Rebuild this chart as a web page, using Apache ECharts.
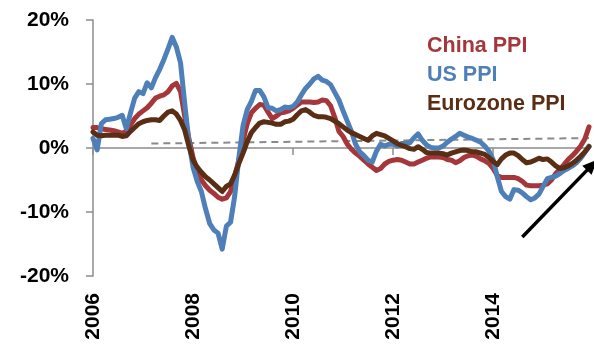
<!DOCTYPE html>
<html>
<head>
<meta charset="utf-8">
<script src="https://cdn.jsdelivr.net/npm/echarts@6/dist/echarts.min.js"></script>
<style>
  html, body { margin: 0; padding: 0; background: #fff; }
  #chart { width: 594px; height: 345px; }
</style>
</head>
<body>
<div id="chart"></div>
<script>
// Producer price indices, year-on-year % change, monthly Jan 2006 - Dec 2015
const years = [2006, 2007, 2008, 2009, 2010, 2011, 2012, 2013, 2014, 2015];
const months = ['01', '02', '03', '04', '05', '06', '07', '08', '09', '10', '11', '12'];

const chinaPPI = [
  3.2, 3.2, 3.0, 2.9, 2.8, 2.7, 2.5, 2.3, 2.6, 3.6, 4.6, 5.3,
  5.8, 6.3, 7.0, 7.8, 8.1, 8.3, 8.8, 9.7, 10.1, 8.8, 5.0, 1.5,
  -1.5, -3.5, -5.0, -5.9, -6.6, -7.1, -7.7, -8.0, -7.8, -6.8, -4.5, -1.8,
  1.2, 3.8, 5.5, 6.2, 6.8, 6.7, 5.6, 4.6, 5.0, 5.5, 5.6, 5.8,
  6.2, 6.7, 7.2, 7.2, 7.2, 7.1, 7.2, 7.5, 7.4, 6.6, 4.8, 2.6,
  1.8, 0.6, -0.2, -0.8, -1.3, -1.9, -2.5, -3.0, -3.5, -3.2, -2.5, -2.1,
  -1.9, -1.8, -1.9, -2.2, -2.5, -2.5, -2.2, -1.9, -1.6, -1.4, -1.4, -1.4,
  -1.5, -1.8, -1.9, -2.3, -2.0, -1.5, -1.2, -1.1, -1.3, -1.7, -2.0, -2.4,
  -3.2, -4.3, -4.6, -4.6, -4.6, -4.6, -4.8, -5.2, -5.8, -5.9, -5.9, -5.9,
  -5.8, -5.6, -5.0, -4.0, -3.3, -2.6, -1.8, -1.2, -0.5, 0.3, 1.4, 3.3
];

const usPPI = [
  1.5, -0.3, 3.8, 4.4, 4.5, 4.6, 4.8, 5.1, 3.0, 5.5, 7.8, 8.8,
  8.5, 10.2, 9.4, 11.0, 12.3, 13.8, 15.5, 17.3, 15.8, 13.3, 7.0, 1.0,
  -3.0, -5.2, -6.8, -9.5, -11.8, -12.8, -13.3, -15.8, -12.2, -11.6, -7.5, -1.5,
  3.5, 6.0, 7.3, 9.0, 9.0, 8.0, 6.3, 6.2, 5.8, 6.0, 6.4, 6.3,
  6.5, 7.2, 8.3, 9.3, 10.0, 10.8, 11.2, 10.6, 10.4, 9.9, 8.7, 7.5,
  5.8, 4.2, 2.6, 0.6, -0.6, -1.2, -1.9, -2.2, -0.5, 0.6, 0.3, 0.6,
  0.6, 0.3, 0.7, 0.7, 0.8, 1.6, 2.2, 1.2, 0.5, 0.1, 0.0, 0.0,
  0.3, 0.9, 1.4, 1.8, 2.3, 2.0, 1.7, 1.5, 1.2, 0.9, 0.3, -0.5,
  -1.8, -4.5, -6.8, -7.6, -8.0, -6.5, -6.6, -7.0, -7.6, -8.1, -7.8, -7.2,
  -6.0, -4.8, -4.6, -4.4, -4.0, -3.5, -3.2, -2.8, -2.3, -1.6, -0.7, 0.3
];

const eurozonePPI = [
  2.5, 2.0, 1.9, 2.0, 2.0, 2.0, 2.0, 1.8, 1.9, 2.6, 3.2, 3.8,
  4.1, 4.3, 4.4, 4.4, 4.3, 5.0, 5.6, 5.8, 5.3, 4.3, 2.8, 0.3,
  -1.9, -3.0, -3.8, -4.5, -5.0, -5.6, -6.2, -6.8, -6.0, -5.6, -4.2, -2.4,
  -0.8, 1.0, 2.4, 3.2, 3.9, 4.1, 4.0, 3.9, 3.7, 3.7, 4.1, 4.2,
  4.5, 5.2, 5.8, 6.0, 5.6, 5.1, 4.9, 4.9, 4.8, 4.6, 4.2, 3.8,
  3.3, 2.8, 2.4, 2.1, 1.8, 1.5, 1.2, 1.9, 2.3, 2.1, 1.9, 1.5,
  1.1, 0.7, 0.4, 0.2, -0.1, -0.2, 0.2, -0.2, -0.7, -0.8, -0.8, -0.8,
  -0.9, -1.1, -0.8, -0.6, -0.4, -0.3, -0.4, -0.6, -0.6, -0.8, -1.0, -1.5,
  -2.1, -2.6, -1.7, -1.1, -0.8, -0.8, -1.2, -1.8, -2.3, -2.2, -1.9, -1.6,
  -1.8, -1.7, -2.2, -2.8, -3.2, -3.1, -2.8, -2.4, -1.9, -1.3, -0.6, 0.2
];

// Dashed long-run trend line: [month, % value]
const trendLine = [['2007-03', 0.7], ['2015-12', 1.55]];

// Annotation arrow, [month index, % value] for tail and tip
const arrowTail = [103, -13.9];
const arrowTip = [120.6, -1.8];

const yTicks = { min: -20, max: 20, step: 10 };

const seriesNames = ['China PPI', 'US PPI', 'Eurozone PPI'];
const seriesColors = ['#A5373A', '#4F7FB8', '#5A2E14'];

const monthLabels = [];
years.forEach(y => months.forEach(m => monthLabels.push(y + '-' + m)));

const FONT = '"Liberation Sans", Arial, sans-serif';
const AXIS_GREY = '#8c8c8c';

const chart = echarts.init(document.getElementById('chart'), null, { renderer: 'canvas' });

const lineSeries = [chinaPPI, usPPI, eurozonePPI].map((values, i) => ({
  name: seriesNames[i],
  type: 'line',
  data: values,
  showSymbol: false,
  symbol: 'none',
  silent: true,
  z: 3 + i,
  lineStyle: { color: seriesColors[i], width: 5, join: 'round', cap: 'round' },
  itemStyle: { color: seriesColors[i] }
}));

chart.setOption({
  animation: false,
  backgroundColor: '#ffffff',
  textStyle: { fontFamily: FONT },
  grid: { left: 93, right: 5, top: 20, bottom: 69, containLabel: false },
  legend: {
    orient: 'vertical',
    left: 417,
    top: 30,
    itemWidth: 0,
    itemHeight: 0,
    itemGap: 7,
    selectedMode: false,
    data: seriesNames.map((n, i) => ({
      name: n,
      icon: 'rect',
      textStyle: { color: seriesColors[i] }
    })),
    textStyle: { fontFamily: FONT, fontSize: 21.5, fontWeight: 'bold', lineHeight: 22 }
  },
  xAxis: {
    type: 'category',
    data: monthLabels,
    boundaryGap: false,
    axisLine: { lineStyle: { color: AXIS_GREY, width: 1.5 } },
    axisTick: { show: true, interval: 23, length: 7, lineStyle: { color: AXIS_GREY, width: 1.5 } },
    axisLabel: {
      interval: 23,
      rotate: 90,
      margin: 17,
      color: '#000',
      fontFamily: FONT,
      fontSize: 21,
      fontWeight: 'bold',
      formatter: v => v.slice(0, 4)
    },
    splitLine: { show: false }
  },
  yAxis: {
    type: 'value',
    min: yTicks.min,
    max: yTicks.max,
    interval: yTicks.step,
    axisLine: { show: true, lineStyle: { color: AXIS_GREY, width: 1.5 } },
    axisTick: { show: true, length: 7, lineStyle: { color: AXIS_GREY, width: 1.5 } },
    axisLabel: {
      margin: 24,
      color: '#000',
      fontFamily: FONT,
      fontSize: 21,
      fontWeight: 'bold',
      formatter: '{value}%'
    },
    splitLine: { show: false }
  },
  series: [
    {
      name: 'trend',
      type: 'line',
      data: trendLine,
      showSymbol: false,
      symbol: 'none',
      silent: true,
      z: 2,
      lineStyle: { color: '#8a8a8a', width: 2, type: [7, 5] }
    }
  ].concat(lineSeries)
});

// Arrow annotation placed in data space
function drawArrow() {
  const p0 = chart.convertToPixel({ gridIndex: 0 }, arrowTail);
  const p1 = chart.convertToPixel({ gridIndex: 0 }, arrowTip);
  const dx = p1[0] - p0[0], dy = p1[1] - p0[1];
  const len = Math.sqrt(dx * dx + dy * dy);
  const ux = dx / len, uy = dy / len;
  const headLen = 15, headHalf = 6.5;
  const bx = p1[0] - ux * headLen, by = p1[1] - uy * headLen;
  const nx = -uy, ny = ux;
  chart.setOption({
    graphic: [
      {
        type: 'line',
        silent: true,
        z: 10,
        shape: { x1: p0[0], y1: p0[1], x2: bx + ux * 2, y2: by + uy * 2 },
        style: { stroke: '#000', lineWidth: 3.5 }
      },
      {
        type: 'polygon',
        silent: true,
        z: 10,
        shape: {
          points: [
            [p1[0], p1[1]],
            [bx + nx * headHalf, by + ny * headHalf],
            [bx - nx * headHalf, by - ny * headHalf]
          ]
        },
        style: { fill: '#000' }
      }
    ]
  });
}
drawArrow();
</script>
</body>
</html>
